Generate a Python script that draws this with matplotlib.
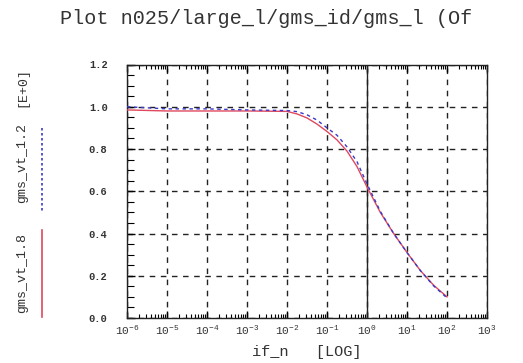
import matplotlib
matplotlib.use("Agg")
import matplotlib.pyplot as plt
from matplotlib.lines import Line2D
from matplotlib.ticker import LogLocator, MultipleLocator, FixedLocator

plt.rcParams['font.family'] = ['Liberation Mono', 'DejaVu Sans Mono']
plt.rcParams['mathtext.fontset'] = 'custom'
plt.rcParams['mathtext.rm'] = 'Liberation Mono'
plt.rcParams['mathtext.default'] = 'regular'

# data
if_n = [1e-6, 1e-5, 1e-4, 1e-3, 1e-2, 1.78e-2, 3.16e-2, 5.62e-2, 1e-1,
        1.78e-1, 3.16e-1, 5.62e-1, 1.0, 2.15, 4.64, 10.0, 21.5, 46.4, 100.0]
gms_vt_1_8 = [0.985, 0.98, 0.98, 0.98, 0.978, 0.966, 0.947, 0.918, 0.883,
              0.843, 0.79, 0.717, 0.62, 0.50, 0.40, 0.31, 0.225, 0.155, 0.10]
gms_vt_1_2 = [1.0, 0.99, 0.99, 0.985, 0.982, 0.977, 0.962, 0.937, 0.90,
              0.865, 0.81, 0.74, 0.635, 0.505, 0.40, 0.31, 0.225, 0.152, 0.095]

title = "Plot n025/large_l/gms_id/gms_l (Of"
label_a = "gms_vt_1.8"
label_b = "gms_vt_1.2"
exp_label = "[E+0]"
x_label = "if_n   [LOG]"
y_ticks = [0.0, 0.2, 0.4, 0.6, 0.8, 1.0, 1.2]

RED = "#e0485e"
BLUE = "#3a3ac8"
TXT = "#333333"

W, H = 523, 363
fig = plt.figure(figsize=(W / 100, H / 100), dpi=100)
ax = fig.add_axes([127 / W, 1 - 318 / H, 360 / W, 253.5 / H])

ax.plot(if_n, gms_vt_1_8, color=RED, lw=1.0, zorder=4)
ax.plot(if_n, gms_vt_1_2, color=BLUE, lw=1.0, ls=(0, (2.5, 2.5)), zorder=5)

ax.set_xscale('log')
ax.set_xlim(1e-6, 1e3)
ax.set_ylim(0, 1.2)
ax.xaxis.set_major_locator(LogLocator(base=10, numticks=20))
ax.xaxis.set_minor_locator(LogLocator(base=10, subs=range(2, 10), numticks=200))
ax.yaxis.set_major_locator(FixedLocator(y_ticks))
ax.yaxis.set_minor_locator(MultipleLocator(0.05))
ax.set_yticklabels([f"{v:.1f}" for v in y_ticks])

ax.tick_params(axis='x', which='both', direction='in', top=True, bottom=True,
               colors='black', labelcolor=TXT, labelsize=8, pad=4)
ax.tick_params(axis='x', which='major', length=5, width=1)
ax.tick_params(axis='x', which='minor', length=3, width=0.8)
ax.tick_params(axis='y', which='both', direction='in', left=True, right=False,
               colors='black', labelcolor=TXT, labelsize=7.5, pad=14)
ax.tick_params(axis='y', which='major', length=6, width=1)
ax.tick_params(axis='y', which='minor', length=5, width=0.8)
for lab in ax.get_yticklabels():
    lab.set_fontweight('bold')

ax.grid(True, which='major', color='#222222', ls=(0, (4, 4)), lw=1.0)
ax.axvline(1.0, color='#222222', lw=1.0, zorder=3)
for s in ax.spines.values():
    s.set_color('#222222')
    s.set_linewidth(1.0)

ax.set_xlabel(x_label, fontsize=11, color=TXT, labelpad=6)

fig.text(60 / W, 1 - 19 / H, title, fontsize=14.5, color=TXT, ha='left', va='center')

fig.text(22 / W, 1 - 87 / H, exp_label, rotation=90, fontsize=9.5, color=TXT,
         ha='center', va='center')
fig.text(22 / W, 1 - 163 / H, label_b, rotation=90, fontsize=9.5, color=TXT,
         ha='center', va='center')
fig.text(22 / W, 1 - 273 / H, label_a, rotation=90, fontsize=9.5, color=TXT,
         ha='center', va='center')
fig.add_artist(Line2D([42 / W, 42 / W], [1 - 128 / H, 1 - 213 / H], color=BLUE,
                      lw=1.2, ls=(0, (1.5, 1.5)), transform=fig.transFigure))
fig.add_artist(Line2D([42 / W, 42 / W], [1 - 230 / H, 1 - 317 / H], color=RED,
                      lw=1.2, transform=fig.transFigure))

fig.savefig("out.png", dpi=100)
